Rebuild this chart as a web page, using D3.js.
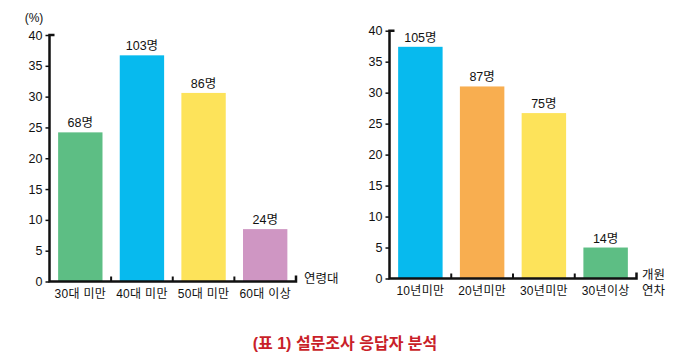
<!DOCTYPE html>
<html>
<head>
<meta charset="utf-8">
<script src="https://cdn.jsdelivr.net/npm/d3@7"></script>
<style>
  body { margin: 0; background: #fff; }
  text { font-family: "Liberation Sans", "Noto Sans CJK KR", sans-serif; }
</style>
</head>
<body>
<div id="chart"></div>
<script>
// left chart: age groups
const ageCats = ["30대 미만", "40대 미만", "50대 미만", "60대 이상"];
const agePct = [24.2, 36.7, 30.6, 8.5];
const ageCounts = ["68명", "103명", "86명", "24명"];
const ageColors = ["#5dbe84", "#07baee", "#fde35a", "#cf96c3"];

// right chart: years since opening
const yearCats = ["10년미만", "20년미만", "30년미만", "30년이상"];
const yearPct = [37.4, 31.0, 26.7, 5.0];
const yearCounts = ["105명", "87명", "75명", "14명"];
const yearColors = ["#07baee", "#f8ae50", "#fde35a", "#5dbe84"];

const yTicks = [0, 5, 10, 15, 20, 25, 30, 35, 40];

const svg = d3.select("#chart")
    .append("svg")
    .attr("width", 680)
    .attr("height", 364);

function drawChart(opts) {
    const x = d3.scaleBand()
        .domain(opts.cats)
        .range([opts.left, opts.right])
        .paddingInner(0.28)
        .paddingOuter(0.14);

    const y = d3.scaleLinear()
        .domain([0, 40])
        .range([opts.bottom, opts.top]);

    const g = svg.append("g");

    // bars
    g.selectAll(".bar")
        .data(opts.values)
        .enter()
        .append("rect")
        .attr("x", (d, i) => x(opts.cats[i]))
        .attr("y", d => y(d))
        .attr("width", x.bandwidth())
        .attr("height", d => y(0) - y(d))
        .attr("fill", (d, i) => opts.colors[i]);

    // count labels above bars
    g.selectAll(".count")
        .data(opts.values)
        .enter()
        .append("text")
        .attr("x", (d, i) => x(opts.cats[i]) + x.bandwidth() / 2)
        .attr("y", d => y(d) - 5)
        .attr("text-anchor", "middle")
        .style("font-size", "12.5px")
        .attr("fill", "#111")
        .text((d, i) => opts.counts[i]);

    // y axis
    const yAxis = g.append("g")
        .attr("transform", `translate(${opts.left},0)`)
        .call(d3.axisLeft(y).tickValues(yTicks).tickSize(4).tickPadding(3));
    yAxis.select(".domain").remove();
    yAxis.selectAll("line").attr("stroke", "#111").attr("stroke-width", 1.5);
    yAxis.selectAll("text")
        .style("font-size", "12.5px")
        .attr("fill", "#111");

    // x axis labels
    g.selectAll(".cat")
        .data(opts.cats)
        .enter()
        .append("text")
        .attr("x", d => x(d) + x.bandwidth() / 2)
        .attr("y", opts.bottom + 16)
        .attr("text-anchor", "middle")
        .style("font-size", "12px")
        .style("letter-spacing", "0.3px")
        .attr("fill", "#111")
        .text(d => d);

    // category separator ticks on x axis
    const step = x.step();
    g.selectAll(".sep")
        .data(opts.cats.slice(1))
        .enter()
        .append("line")
        .attr("x1", (d, i) => opts.left + (i + 1) * step)
        .attr("x2", (d, i) => opts.left + (i + 1) * step)
        .attr("y1", opts.bottom)
        .attr("y2", opts.bottom - 5)
        .attr("stroke", "#111")
        .attr("stroke-width", 2);

    // axis frame: top cap, y line, x line, right cap
    g.append("path")
        .attr("d", `M${opts.left + 5},${y(40)} H${opts.left} V${opts.bottom} H${opts.right} V${opts.bottom - 6}`)
        .attr("fill", "none")
        .attr("stroke", "#111")
        .attr("stroke-width", 2.5);
}

drawChart({
    cats: ageCats, values: agePct, counts: ageCounts, colors: ageColors,
    left: 49.5, right: 296, top: 35, bottom: 281.5
});

drawChart({
    cats: yearCats, values: yearPct, counts: yearCounts, colors: yearColors,
    left: 389.5, right: 636.5, top: 30.7, bottom: 278.5
});

// unit label and axis titles
svg.append("text")
    .attr("x", 34).attr("y", 22)
    .attr("text-anchor", "middle")
    .style("font-size", "12px")
    .attr("fill", "#111")
    .text("(%)");

svg.append("text")
    .attr("x", 304).attr("y", 283)
    .style("font-size", "12.5px")
    .attr("fill", "#111")
    .text("연령대");

svg.append("text")
    .attr("x", 642).attr("y", 279)
    .style("font-size", "12.5px")
    .attr("fill", "#111")
    .text("개원");

svg.append("text")
    .attr("x", 642).attr("y", 295)
    .style("font-size", "12.5px")
    .attr("fill", "#111")
    .text("연차");

// caption
svg.append("text")
    .attr("x", 345).attr("y", 349)
    .attr("text-anchor", "middle")
    .style("font-size", "16px")
    .style("font-weight", "bold")
    .attr("fill", "#c91f2a")
    .text("(표 1) 설문조사 응답자 분석");
</script>
</body>
</html>
